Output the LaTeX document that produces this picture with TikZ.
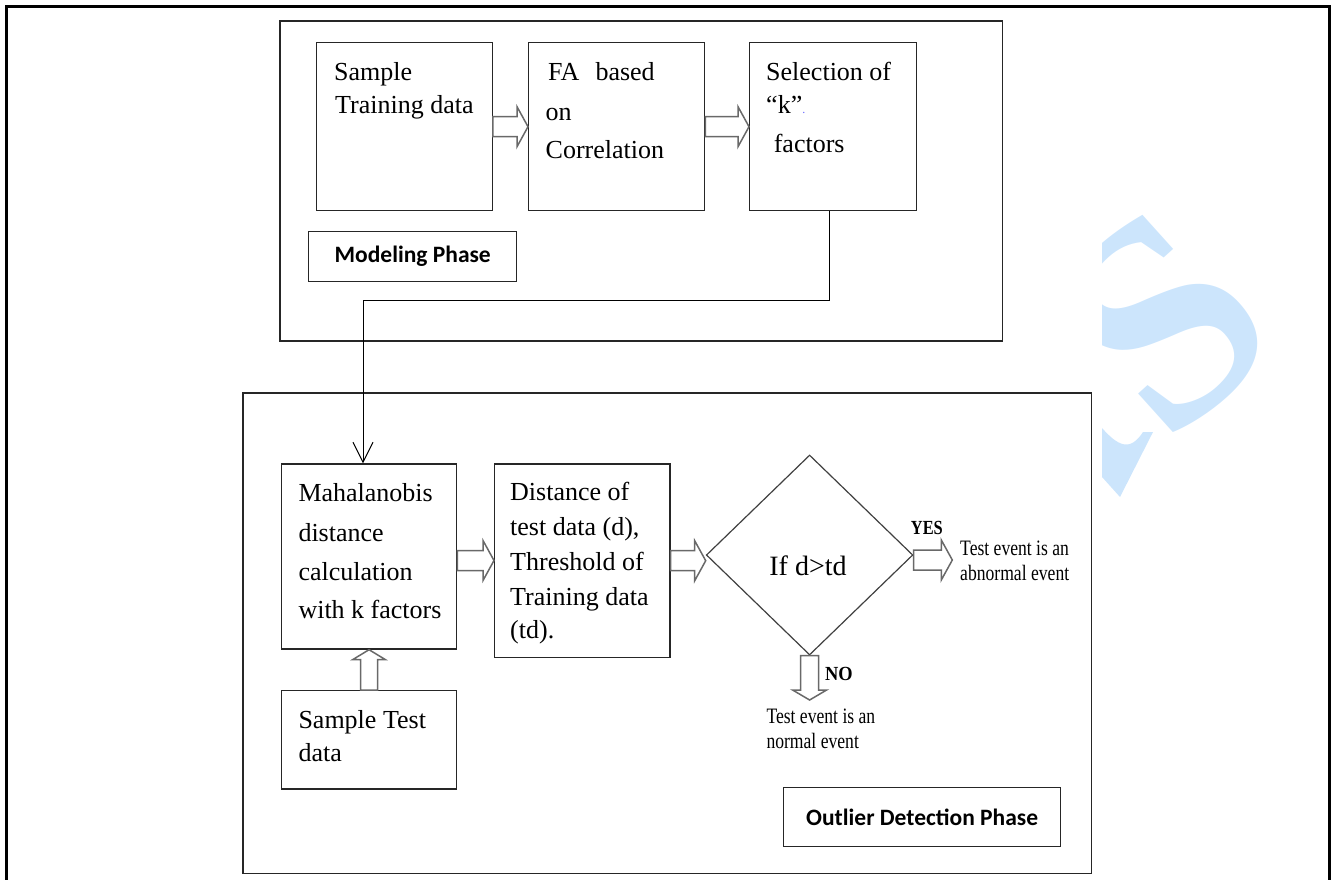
\documentclass[tikz,border=0pt]{standalone}
\usepackage{fontspec}
\usepackage{graphicx}
\setmainfont{Liberation Serif}
\newfontfamily\phasefont{Carlito}
\usetikzlibrary{calc,arrows.meta,shapes.geometric}
\definecolor{wmblue}{RGB}{204,229,252}
\definecolor{arrgray}{RGB}{105,105,105}
\newcommand\bt{\fontsize{26}{30}\selectfont}
\newcommand\blockR[2]{\draw[blk] ($(#1)+(0,-10)$) -- ($(#2|-#1)+(-11,-10)$) -- ($(#2|-#1)+(-11,-20)$) -- (#2|-#1) -- ($(#2|-#1)+(-11,20)$) -- ($(#2|-#1)+(-11,10)$) -- ($(#1)+(0,10)$) -- cycle;}
\newcommand\blockD[2]{\draw[blk] ($(#1)+(-9,0)$) -- ($(#1|-#2)+(-9,-10)$) -- ($(#1|-#2)+(-17,-10)$) -- (#1|-#2) -- ($(#1|-#2)+(17,-10)$) -- ($(#1|-#2)+(9,-10)$) -- ($(#1)+(9,0)$) -- cycle;}
\newcommand\blockU[2]{\draw[blk] ($(#1)+(-8.5,0)$) -- ($(#1|-#2)+(-8.5,10)$) -- ($(#1|-#2)+(-16.5,10)$) -- (#1|-#2) -- ($(#1|-#2)+(16.5,10)$) -- ($(#1|-#2)+(8.5,10)$) -- ($(#1)+(8.5,0)$) -- cycle;}
\begin{document}
\begin{tikzpicture}[x=1pt,y=-1pt,
  box/.style={draw=black!85, line width=1.4pt, inner sep=0pt, anchor=north west},
  frame/.style={draw=black!85, line width=1.6pt, inner sep=0pt, anchor=north west},
  txt/.style={anchor=base west, inner sep=0pt, font=\bt, text=black},
  small/.style={anchor=base west, inner sep=0pt, font=\fontsize{22}{24}\selectfont},
  yn/.style={anchor=base west, inner sep=0pt, font=\fontsize{20}{22}\selectfont\bfseries},
  phase/.style={font=\phasefont\fontsize{23.5}{26}\selectfont\bfseries, inner sep=0pt},
  blk/.style={draw=arrgray, line width=1.5pt, fill=white, line join=miter},
  conn/.style={draw=black, line width=1pt}
]
\useasboundingbox (0,0) rectangle (1332,879);
\clip (0,0) rectangle (1332,879);
% outer frame
\draw[line width=3pt] (6.5,885) -- (6.5,6.5) -- (1329.5,6.5) -- (1329.5,885);

% watermark
\begin{scope}
\clip (1102,0) rectangle (1332,879);
\node[text=wmblue, rotate=42, inner sep=0pt, font=\fontsize{295}{295}\selectfont\bfseries] (wm) at (1163,322) {S};
\fill[wmblue] (1102,428) .. controls (1118,446) and (1130,452) .. (1143,432) -- (1153,432) -- (1120,497) -- (1102,477) -- cycle;
\end{scope}

% phase frames
\node[frame, minimum width=722.6, minimum height=320] (mp) at (279,20) {};
\node[frame, minimum width=848.5, minimum height=480.4] (op) at (242.3,392.3) {};

% modeling boxes
\node[box, minimum width=175.5, minimum height=168] (b1) at (316,42) {};
\node[box, minimum width=176, minimum height=168] (b2) at (528,42) {};
\node[box, minimum width=167, minimum height=168] (b3) at (749,42) {};
\node[txt] (t1a) at (334,80) {Sample};
\node[txt] (t1b) at (335,113) {Training data};
\node[txt] (t2a) at (548,80) {FA\hspace{16pt}based};
\node[txt] (t2b) at (545.5,120) {on};
\node[txt] (t2c) at (545.5,158) {Correlation};
\node[txt] (t3a) at (766,80) {Selection of};
\node[txt] (t3b) at (766,113) {“k”\textcolor{blue!60}{\fontsize{12}{12}\selectfont.}};
\node[txt] (t3c) at (773.6,152) {factors};
\node[box, minimum width=208, minimum height=50] (mlab) at (308,231) {};
\node[phase] (mlabt) at (mlab.center) {Modeling Phase};

% outlier boxes
\node[box, minimum width=175.3, minimum height=185] (m) at (280.7,463.3) {};
\node[box, minimum width=175.3, minimum height=193.4] (dist) at (494,463.3) {};
\node[box, minimum width=175.3, minimum height=98.3] (st) at (280.7,690) {};
\node[txt] (m1) at (298.3,501.7) {Mahalanobis};
\node[txt] (m2) at (298.3,541.7) {distance};
\node[txt] (m3) at (298.3,580) {calculation};
\node[txt] (m4) at (298.3,618.3) {with k factors};
\node[txt] (d1) at (510,500) {Distance of};
\node[txt] (d2) at (510,535) {test data (d),};
\node[txt] (d3) at (510,570.7) {Threshold of};
\node[txt] (d4) at (510,605) {Training data};
\node[txt] (d5) at (510,638.3) {(td).};
\node[txt] (s1) at (298.3,728.3) {Sample Test};
\node[txt] (s2) at (298.3,761.7) {data};

% decision
\node[diamond, draw=black!75, line width=1.2pt, minimum width=206.6, minimum height=200, inner sep=0pt] (d) at (809.6,555) {};
\node[anchor=base, inner sep=0pt, font=\fontsize{28}{30}\selectfont] (dt) at (808,575) {If d>td};

\node[yn] (yes) at (910.7,534) {\scalebox{0.82}[1]{YES}};
\node[yn] (no) at (825,680) {\scalebox{0.92}[1]{NO}};
\node[small] (ab1) at (960,555) {\scalebox{0.8}[1]{Test event is an}};
\node[small] (ab2) at (960,580) {\scalebox{0.8}[1]{abnormal event}};
\node[small] (nm1) at (766.3,723.3) {\scalebox{0.8}[1]{Test event is an}};
\node[small] (nm2) at (766.3,748.3) {\scalebox{0.8}[1]{normal event}};

\node[box, minimum width=277, minimum height=59.3] (olab) at (783,786.7) {};
\node[phase] (olabt) at (olab.center) {Outlier Detection Phase};

% block arrows
\blockR{b1.east}{b2.west}
\blockR{b2.east}{b3.west}
\coordinate (s3) at ($(m.east)+(0,4)$);
\blockR{s3}{dist.west}
\blockR{dist.east}{d.west}
\coordinate (s5) at ($(d.east)+(0,5)$);
\coordinate (yt) at (952.3,560);
\blockR{s5}{yt}
\coordinate (nt) at (810,700);
\blockD{d.south}{nt}
\blockU{st.north}{m.south}

% connector
\coordinate (k) at ($(b3.south)+(-4,0)$);
\coordinate (j) at (363,300);
\draw[conn, -{Straight Barb[length=20pt,width=20pt]}] (k) |- (j) -- (m.north -| j);
\end{tikzpicture}
\end{document}
